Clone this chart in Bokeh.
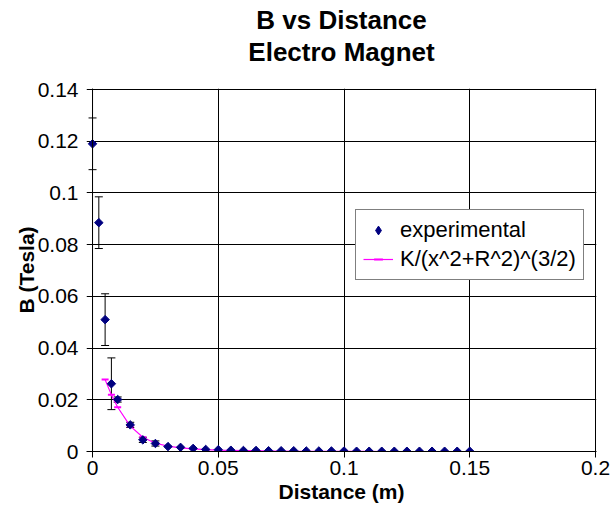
from bokeh.plotting import figure
from bokeh.models import (Range1d, FixedTicker, Whisker, TeeHead, ColumnDataSource,
                          Legend, LegendItem, Title, Span)
from bokeh.embed import file_html
from bokeh.resources import INLINE
import math

FONT = "Liberation Sans"

# ---------------- data ----------------
x_exp = [0.0, 0.0025, 0.005, 0.0075, 0.01, 0.015, 0.02, 0.025, 0.03, 0.035, 0.04,
         0.045, 0.05, 0.055, 0.06, 0.065, 0.07, 0.075, 0.08, 0.085, 0.09, 0.095,
         0.1, 0.105, 0.11, 0.115, 0.12, 0.125, 0.13, 0.135, 0.14, 0.145, 0.15]
y_exp = [0.119, 0.0885, 0.051, 0.0262, 0.0201, 0.0103, 0.0045, 0.0031, 0.0019,
         0.0016, 0.0012, 0.0008, 0.0007, 0.0005, 0.0004, 0.0004, 0.0003, 0.0003,
         0.0003, 0.0002, 0.0002, 0.0002, 0.0002, 0.0001, 0.0001, 0.0001, 0.0001,
         0.0001, 0.0001, 0.0001, 0.0001, 0.0001, 0.0001]
# error bars (only where visible)
x_err = [0.0, 0.0025, 0.005, 0.0075, 0.01, 0.015, 0.02, 0.025]
y_err_center = [0.119, 0.0885, 0.051, 0.0262, 0.0201, 0.0103, 0.0045, 0.0031]
y_err = [0.01, 0.01, 0.01, 0.01, 0.001, 0.001, 0.001, 0.001]

x_fit = [0.005, 0.0075, 0.01, 0.015, 0.02, 0.025, 0.03, 0.035, 0.04, 0.045, 0.05,
         0.055, 0.06, 0.065, 0.07, 0.075, 0.08, 0.085, 0.09, 0.095, 0.1, 0.105,
         0.11, 0.115, 0.12, 0.125, 0.13, 0.135, 0.14, 0.145, 0.15]
y_fit = [0.0278, 0.0219, 0.0171, 0.0098, 0.0055, 0.0032, 0.0021, 0.0014, 0.001,
         0.0007, 0.0005, 0.0004, 0.0003, 0.0003, 0.0002, 0.0002, 0.0001, 0.0001,
         0.0001, 0.0001, 0.0001, 0.0001, 0.0001, 0.0, 0.0, 0.0, 0.0, 0.0, 0.0,
         0.0, 0.0]

x_ticks = [0, 0.05, 0.1, 0.15, 0.2]
x_tick_labels = ["0", "0.05", "0.1", "0.15", "0.2"]
y_ticks = [0, 0.02, 0.04, 0.06, 0.08, 0.1, 0.12, 0.14]
y_tick_labels = ["0", "0.02", "0.04", "0.06", "0.08", "0.1", "0.12", "0.14"]

title_lines = ["B vs Distance", "Electro Magnet"]
x_title = "Distance (m)"
y_title = "B (Tesla)"
series_names = ["experimental", "K/(x^2+R^2)^(3/2)"]

# ---------------- figure ----------------
# The frame reaches a few pixels left of x = 0 (so points at x = 0 are not clipped,
# and the horizontal grid lines stick out like Excel's outside tick marks);
# the y axis line is drawn at x = 0 with a Span.
p = figure(width=611, height=511, x_range=Range1d(-0.0024, 0.2004),
           y_range=Range1d(0, 0.14039),
           output_backend="svg", toolbar_location=None, title=None,
           min_border_left=86, min_border_right=15, min_border_top=88,
           min_border_bottom=60, background_fill_color="white",
           border_fill_color="white", outline_line_color=None)

# title panels stack outward from the frame: a blank spacer first, then the two lines
p.add_layout(Title(text=" ", text_font=FONT, text_font_size="18px", standoff=0), "above")
for txt in reversed(title_lines):
    p.add_layout(Title(text=txt, align="center", text_font=FONT,
                       text_font_size="26px", text_font_style="bold",
                       text_color="black", standoff=0), "above")

xt = FixedTicker(ticks=x_ticks)
yt = FixedTicker(ticks=y_ticks)
p.xaxis.ticker = xt
p.yaxis.ticker = yt
p.xgrid.ticker = xt
p.ygrid.ticker = yt
p.xaxis.major_label_overrides = dict(zip(x_ticks, x_tick_labels))
p.yaxis.major_label_overrides = dict(zip(y_ticks, y_tick_labels))

for ax in (p.xaxis[0], p.yaxis[0]):
    ax.axis_line_color = "black"
    ax.major_tick_line_color = "black"
    ax.major_tick_out = 6
    ax.major_tick_in = 0
    ax.minor_tick_line_color = None
    ax.major_label_text_font = FONT
    ax.major_label_text_font_size = "21px"
    ax.major_label_text_color = "black"
    ax.axis_label_text_font = FONT
    ax.axis_label_text_font_size = "21px"
    ax.axis_label_text_font_style = "bold"
    ax.axis_label_text_color = "black"

p.yaxis.axis_line_color = None
p.yaxis.major_tick_out = 0
p.yaxis.major_label_standoff = 8
p.yaxis.axis_label_standoff = -3
p.xaxis.major_label_standoff = 3
p.xaxis.axis_label_standoff = 2
p.xaxis.axis_label = x_title
p.yaxis.axis_label = y_title

for g in (p.xgrid[0], p.ygrid[0]):
    g.grid_line_color = "black"
    g.grid_line_width = 1

p.add_layout(Span(location=0, dimension="height", line_color="black", line_width=1))

# ---------------- glyphs ----------------
fit_line = p.line(x_fit, y_fit, line_color="#FF00FF", line_width=1.2)
fit_marks = p.scatter(x_fit, y_fit, marker="dash", size=7, line_color="#FF00FF",
                      line_width=2)

err_src = ColumnDataSource(dict(
    x=x_err,
    upper=[c + e for c, e in zip(y_err_center, y_err)],
    lower=[c - e for c, e in zip(y_err_center, y_err)],
))
p.add_layout(Whisker(source=err_src, base="x", upper="upper", lower="lower",
                     dimension="height", line_color="black", line_width=1,
                     upper_head=TeeHead(size=8, line_color="black", line_width=1),
                     lower_head=TeeHead(size=8, line_color="black", line_width=1)))

exp_r = p.scatter(x_exp, y_exp, marker="square", angle=math.pi / 4, size=6,
                  fill_color="#000080", line_color="#000080")
# legend-only glyph (the legend draws markers unrotated), hidden in the plot
exp_legend = p.scatter(x_exp[:1], y_exp[:1], marker="diamond", size=8,
                       fill_color="#000080", line_color="#000080", visible=False)

legend = Legend(items=[LegendItem(label=series_names[0], renderers=[exp_legend]),
                       LegendItem(label=series_names[1], renderers=[fit_line, fit_marks])],
                location=(269, 171), label_text_font=FONT,
                label_text_font_size="22px", label_text_color="black",
                glyph_width=30, glyph_height=22, label_height=22,
                label_standoff=7, spacing=3, padding=7, margin=0,
                border_line_color="black", border_line_width=1,
                background_fill_color="white", background_fill_alpha=1.0,
                inactive_fill_alpha=0.0)
p.add_layout(legend, "center")

open("out.html", "w").write(file_html(p, INLINE))
